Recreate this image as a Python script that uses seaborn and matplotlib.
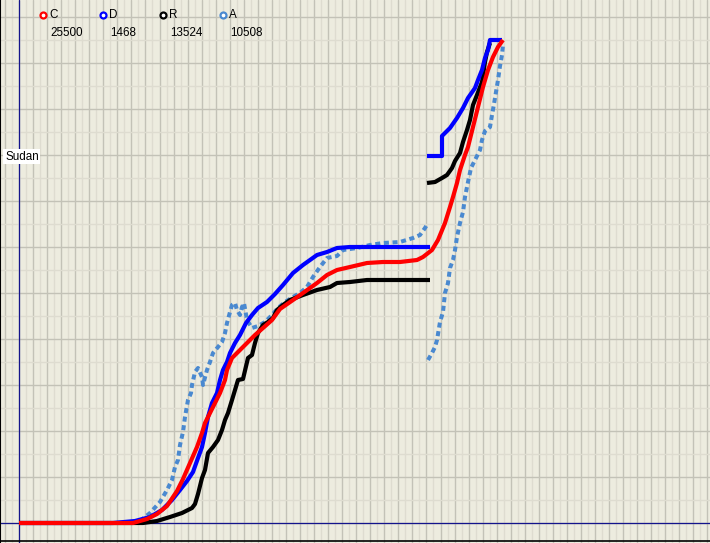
import numpy as np
import pandas as pd
import seaborn as sns
import matplotlib
matplotlib.use("Agg")
import matplotlib.pyplot as plt
from matplotlib.ticker import MultipleLocator

# ---------------- data (x = day index, y = value) ----------------
series_names = ["C", "D", "R", "A"]
series_totals = ["25500", "1468", "13524", "10508"]
series_colors = ["#ff0000", "#0000ff", "#000000", "#4a89d0"]
label_text = "Sudan"

c_x1 = [0, 114, 128, 138, 148, 158, 164, 171, 178, 183, 186, 191, 196, 201, 206, 208, 213, 219, 228, 236,
        244, 253, 261, 274, 284, 298, 308, 318, 331, 348, 364, 381, 398, 404, 413, 419, 426, 431, 434, 438,
        441, 446, 449, 454, 459, 464, 469, 474, 479, 484]
c_y1 = [0, 0, 4, 9, 17, 32, 44, 60, 76, 90, 100, 110, 120, 130, 143, 153, 165, 171, 180, 188,
        195, 203, 214, 223, 230, 240, 248, 253, 256, 260, 261, 261, 263, 266, 273, 283, 300, 316, 326, 340,
        353, 368, 376, 396, 416, 436, 453, 466, 476, 483]

d_x1 = [0, 94, 116, 131, 143, 153, 161, 168, 174, 179, 183, 186, 189, 193, 198, 201, 204, 208, 211, 216,
        221, 227, 233, 239, 248, 256, 264, 274, 284, 298, 308, 318, 331, 411]
d_y1 = [0, 0, 2, 6, 13, 23, 33, 42, 51, 65, 76, 90, 106, 120, 130, 143, 153, 161, 170, 180,
        188, 200, 208, 215, 221, 229, 238, 250, 258, 268, 271, 275, 276, 276]
d_x2 = [408, 423, 423, 431, 438, 444, 449, 456, 459, 463, 466, 469, 471, 483]
d_y2 = [367, 367, 387, 395, 405, 415, 425, 435, 443, 453, 465, 473, 483, 483]

r_x1 = [0, 124, 138, 151, 163, 173, 176, 179, 183, 186, 189, 194, 199, 203, 206, 209, 213, 216, 219, 224,
        229, 233, 236, 239, 244, 249, 254, 258, 264, 271, 284, 298, 311, 318, 331, 348, 411]
r_y1 = [0, 0, 2, 6, 10, 15, 19, 29, 45, 53, 70, 76, 83, 93, 103, 110, 123, 133, 143, 144,
        165, 168, 180, 190, 198, 201, 205, 213, 218, 223, 228, 233, 236, 240, 241, 243, 243]
r_x2 = [408, 416, 423, 428, 433, 436, 441, 444, 448, 451, 454, 458, 463, 466, 468, 471]
r_y2 = [340, 341, 345, 348, 355, 362, 370, 381, 393, 403, 418, 428, 441, 461, 471, 480]

a_x1 = [0, 109, 121, 131, 141, 148, 153, 156, 159, 161, 164, 166, 169, 172, 173, 176, 179, 183, 184, 188,
        191, 194, 199, 203, 206, 208, 211, 213, 216, 218, 221, 223, 225, 228, 233, 239, 246, 253, 259, 266,
        274, 281, 288, 294, 301, 308, 318, 324, 338, 351, 364, 381, 394, 401, 406, 409]
a_y1 = [0, 0, 2, 10, 21, 33, 43, 56, 63, 78, 91, 106, 123, 130, 138, 151, 155, 146, 138, 153,
        161, 170, 176, 181, 190, 200, 211, 218, 220, 213, 208, 216, 220, 203, 195, 197, 201, 208, 215, 221,
        226, 230, 236, 246, 256, 265, 267, 273, 275, 278, 280, 281, 285, 288, 295, 300]
a_x2 = [409, 413, 416, 418, 421, 424, 426, 429, 431, 434, 436, 438, 441, 444, 446, 449, 452, 456, 461, 463,
        466, 471, 473, 475, 477, 479, 481, 483, 484]
a_y2 = [163, 170, 176, 183, 201, 211, 230, 240, 255, 263, 273, 286, 300, 311, 326, 341, 355, 363, 373, 383,
        392, 396, 408, 419, 431, 443, 457, 468, 478]

segments = [
    ("A", a_x1, a_y1), ("A", a_x2, a_y2),
    ("R", r_x1, r_y1), ("R", r_x2, r_y2),
    ("D", d_x1, d_y1), ("D", d_x2, d_y2),
    ("C", c_x1, c_y1),
]

# ---------------- figure ----------------
W, H, DPI = 710, 543, 100
bg = "#edecdf"
sns.set_style("white")
plt.rcParams["font.family"] = ["Liberation Sans", "DejaVu Sans"]

fig = plt.figure(figsize=(W / DPI, H / DPI), dpi=DPI, facecolor=bg)
ax = fig.add_axes([0, 0, 1, 1])
ax.set_facecolor(bg)
ax.set_xlim(-19, W - 19)
ax.set_ylim(-20, H - 20)

# grid
ax.xaxis.set_major_locator(MultipleLocator(14.05))
ax.xaxis.set_minor_locator(MultipleLocator(7.025))
ax.yaxis.set_major_locator(MultipleLocator(46))
ax.yaxis.set_minor_locator(MultipleLocator(23))
ax.grid(which="major", color="#c3c2b7", lw=1.0, zorder=0)
ax.grid(which="minor", color="#dedcd0", lw=1.0, zorder=0)
ax.tick_params(which="both", length=0, labelbottom=False, labelleft=False)
for s in ax.spines.values():
    s.set_visible(False)
ax.set_axisbelow(True)

# axes lines
ax.axvline(0, color="#14148c", lw=0.9, zorder=1)
ax.axhline(0, color="#14148c", lw=0.9, zorder=1)
# frame
ax.axvline(-18.6, color="black", lw=1.5, zorder=6)
ax.axhline(-18.0, color="black", lw=1.2, zorder=6)

color_of = dict(zip(series_names, series_colors))
zord = {"A": 2, "R": 3, "D": 4, "C": 5}
for name, xs, ys in segments:
    df = pd.DataFrame({"x": xs, "y": ys})
    if name == "A":
        sns.lineplot(data=df, x="x", y="y", ax=ax, sort=False, estimator=None,
                     color=color_of[name], lw=2.9, zorder=zord[name],
                     linestyle=(0, (1.25, 0.9)), dash_capstyle="butt")
    else:
        sns.lineplot(data=df, x="x", y="y", ax=ax, sort=False, estimator=None,
                     color=color_of[name], lw=3.0, zorder=zord[name],
                     solid_capstyle="butt")
ax.set_xlabel("")
ax.set_ylabel("")

# legend (pixel layout)
def fx(px):
    return px / W

def fy(py):
    return 1 - py / H

for i, (name, tot, col) in enumerate(zip(series_names, series_totals, series_colors)):
    x0 = 42.7 + 60 * i
    ax.plot([fx(x0)], [fy(15)], transform=fig.transFigure, marker="o", ms=4.3,
            mfc="white", mec=col, mew=1.6, clip_on=False, zorder=10, ls="none")
    fig.text(fx(x0 + 6.5), fy(15), name, fontsize=8.4, va="center", ha="left", color="black")
    fig.text(fx(x0 + 7.5), fy(33), tot, fontsize=8.4, va="center", ha="left", color="black")

fig.text(fx(5), fy(156.5), label_text, fontsize=8.4, va="center", ha="left", color="black",
         bbox=dict(facecolor="white", edgecolor="none", pad=1.2), zorder=10)

fig.savefig("out.png", dpi=DPI, facecolor=bg)
